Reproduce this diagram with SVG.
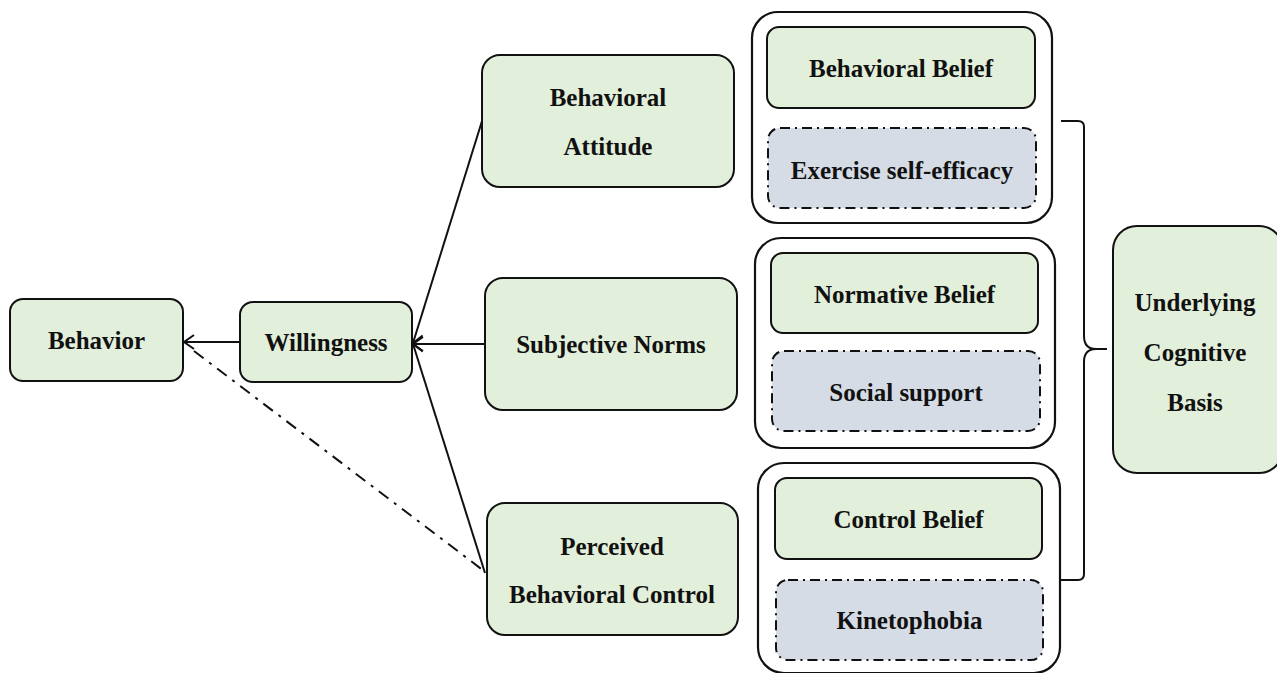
<svg xmlns="http://www.w3.org/2000/svg" width="1277" height="673" viewBox="0 0 1277 673">
<defs>
<style>
.g{fill:#e2efda;stroke:#111;stroke-width:2}
.b{fill:#d6dce5;stroke:#111;stroke-width:2;stroke-dasharray:10 5 2 5}
.o{fill:#fff;stroke:#111;stroke-width:2.2}
text{font-family:"Liberation Serif","Times New Roman",serif;font-weight:bold;font-size:25px;fill:#111;text-anchor:middle}
.l{stroke:#111;stroke-width:2;fill:none}
.dd{stroke:#111;stroke-width:2;fill:none;stroke-dasharray:12 7 3 7}
</style>
<marker id="ah" viewBox="0 0 12 16" refX="11" refY="8" markerWidth="12" markerHeight="16" markerUnits="userSpaceOnUse" orient="auto">
<path d="M1,1 L11,8 L1,15" fill="none" stroke="#111" stroke-width="2"/>
</marker>
</defs>
<rect width="1277" height="673" fill="#fff"/>
<g id="connectors">
<line class="l" x1="240" y1="342" x2="184" y2="342" marker-end="url(#ah)"/>
<line class="l" x1="482" y1="121" x2="413" y2="343" marker-end="url(#ah)"/>
<line class="l" x1="485" y1="344" x2="413" y2="344" marker-end="url(#ah)"/>
<line class="l" x1="485" y1="573" x2="413" y2="344" marker-end="url(#ah)"/>
<line class="dd" x1="194" y1="351" x2="484" y2="571"/>
<path class="l" d="M1061,121 H1078 Q1084,121 1084,127 V336 Q1084,349 1096,349 H1107 M1096,349 Q1084,349 1084,362 V574 Q1084,580 1078,580 H1060"/>
</g>
<g id="behavior"><rect class="g" x="10" y="299" width="173" height="82" rx="13"/><text x="96.5" y="349">Behavior</text></g>
<g id="willingness"><rect class="g" x="240" y="302" width="172" height="80" rx="13"/><text x="326" y="351">Willingness</text></g>
<g id="attitude"><rect class="g" x="482" y="55" width="252" height="132" rx="18"/><text x="608" y="106">Behavioral</text><text x="608" y="155">Attitude</text></g>
<g id="norms"><rect class="g" x="485" y="278" width="252" height="132" rx="18"/><text x="611" y="353">Subjective Norms</text></g>
<g id="control"><rect class="g" x="487" y="503" width="251" height="132" rx="18"/><text x="612" y="555">Perceived</text><text x="612" y="603">Behavioral Control</text></g>
<g id="group1"><rect class="o" x="752" y="12" width="300" height="211" rx="26"/>
<g id="behavioral-belief"><rect class="g" x="767" y="27" width="268" height="81" rx="12"/><text x="901" y="77">Behavioral Belief</text></g>
<g id="self-efficacy"><rect class="b" x="768" y="128" width="268" height="80" rx="12"/><text x="902" y="179">Exercise self-efficacy</text></g></g>
<g id="group2"><rect class="o" x="755" y="238" width="300" height="210" rx="26"/>
<g id="normative-belief"><rect class="g" x="771" y="253" width="267" height="80" rx="12"/><text x="904.5" y="303">Normative Belief</text></g>
<g id="social-support"><rect class="b" x="772" y="351" width="268" height="80" rx="12"/><text x="906" y="401">Social support</text></g></g>
<g id="group3"><rect class="o" x="758" y="463" width="302" height="210" rx="26"/>
<g id="control-belief"><rect class="g" x="775" y="478" width="267" height="81" rx="12"/><text x="908.5" y="528">Control Belief</text></g>
<g id="kinetophobia"><rect class="b" x="776" y="580" width="267" height="80" rx="12"/><text x="909.5" y="629">Kinetophobia</text></g></g>
<g id="underlying"><rect class="g" x="1113" y="226" width="170" height="247" rx="24"/><text x="1195" y="311">Underlying</text><text x="1195" y="361">Cognitive</text><text x="1195" y="411">Basis</text></g>
</svg>
